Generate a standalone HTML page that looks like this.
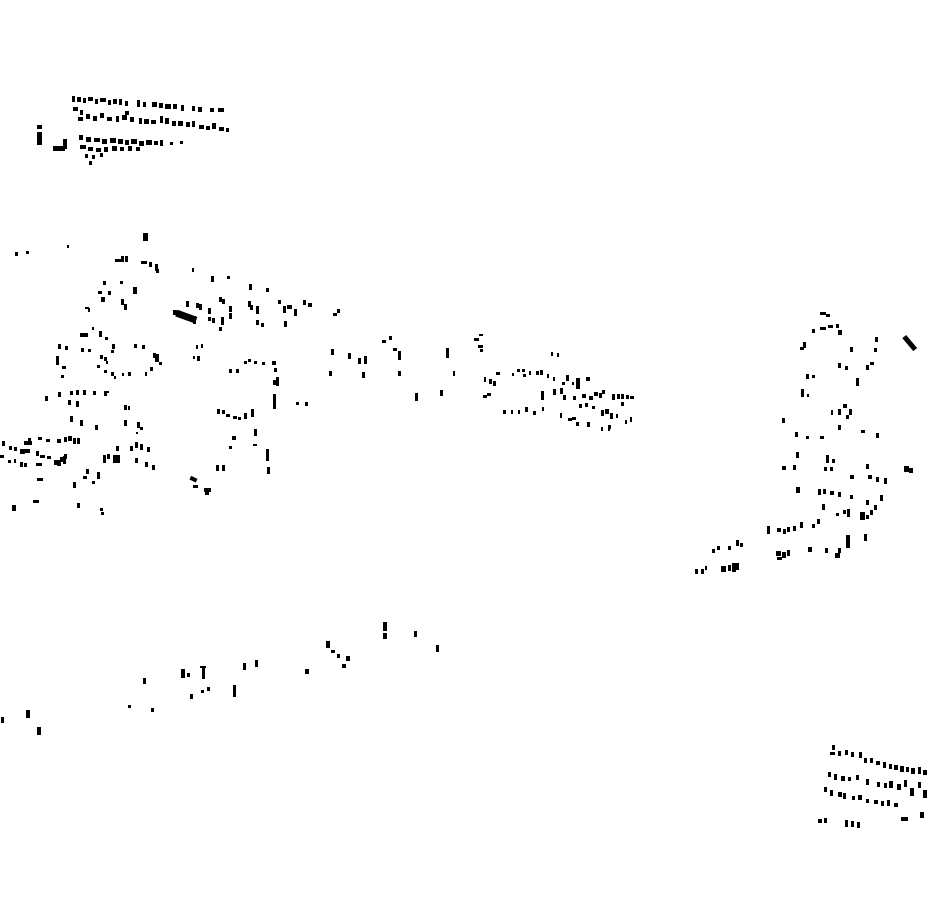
<!DOCTYPE html>
<html><head><meta charset="utf-8"><style>html,body{margin:0;padding:0;background:#fff}svg{display:block}</style></head>
<body>
<svg width="930" height="924" viewBox="0 0 930 924" xmlns="http://www.w3.org/2000/svg" fill="#000">
<!-- top-left dense cluster -->
<g>
<rect x="72" y="96" width="3" height="6"/><rect x="77" y="97" width="4" height="5"/><rect x="83" y="98" width="3" height="5"/><rect x="88" y="97" width="5" height="4"/><rect x="95" y="99" width="3" height="5"/><rect x="100" y="98" width="6" height="4"/><rect x="108" y="100" width="3" height="5"/><rect x="113" y="99" width="4" height="5"/><rect x="119" y="99" width="3" height="6"/><rect x="125" y="101" width="3" height="5"/><rect x="137" y="100" width="3" height="7"/><rect x="143" y="102" width="3" height="5"/><rect x="152" y="102" width="5" height="5"/><rect x="159" y="103" width="4" height="5"/><rect x="165" y="104" width="6" height="5"/><rect x="173" y="104" width="4" height="5"/><rect x="181" y="105" width="3" height="6"/><rect x="192" y="106" width="3" height="5"/><rect x="198" y="107" width="4" height="5"/><rect x="210" y="108" width="4" height="4"/><rect x="218" y="108" width="6" height="4"/>
<rect x="73" y="107" width="5" height="4"/><rect x="80" y="110" width="3" height="5"/><rect x="78" y="117" width="5" height="4"/><rect x="86" y="114" width="4" height="5"/><rect x="93" y="116" width="4" height="5"/><rect x="100" y="113" width="4" height="5"/><rect x="107" y="117" width="5" height="4"/><rect x="116" y="116" width="3" height="6"/><rect x="122" y="115" width="5" height="5"/><rect x="125" y="111" width="4" height="4"/><rect x="130" y="117" width="4" height="5"/><rect x="139" y="118" width="3" height="6"/><rect x="144" y="119" width="5" height="5"/><rect x="151" y="120" width="5" height="4"/><rect x="160" y="116" width="3" height="7"/><rect x="165" y="118" width="4" height="6"/><rect x="172" y="121" width="4" height="5"/><rect x="178" y="121" width="5" height="5"/><rect x="186" y="122" width="4" height="5"/><rect x="192" y="121" width="3" height="6"/><rect x="199" y="125" width="5" height="4"/><rect x="206" y="126" width="4" height="4"/><rect x="212" y="123" width="4" height="6"/><rect x="219" y="127" width="5" height="4"/><rect x="226" y="128" width="3" height="4"/>
<rect x="79" y="135" width="4" height="5"/><rect x="86" y="137" width="5" height="5"/><rect x="94" y="138" width="6" height="4"/><rect x="102" y="139" width="5" height="5"/><rect x="110" y="138" width="6" height="5"/><rect x="118" y="139" width="5" height="5"/><rect x="125" y="140" width="4" height="5"/><rect x="131" y="139" width="6" height="5"/><rect x="139" y="141" width="5" height="5"/><rect x="146" y="140" width="6" height="5"/><rect x="154" y="141" width="4" height="4"/><rect x="160" y="140" width="3" height="6"/><rect x="170" y="142" width="3" height="3"/><rect x="180" y="141" width="3" height="3"/>
<rect x="80" y="145" width="6" height="4"/><rect x="88" y="147" width="5" height="4"/><rect x="96" y="148" width="5" height="4"/><rect x="104" y="147" width="4" height="5"/><rect x="112" y="146" width="5" height="5"/><rect x="120" y="147" width="4" height="4"/><rect x="128" y="146" width="4" height="5"/><rect x="136" y="147" width="4" height="4"/><rect x="85" y="154" width="3" height="4"/><rect x="92" y="155" width="3" height="4"/><rect x="100" y="153" width="3" height="4"/><rect x="89" y="161" width="3" height="4"/>
<rect x="37" y="125" width="5" height="4"/><rect x="37" y="132" width="5" height="13"/><rect x="53" y="146" width="12" height="5"/><rect x="63" y="139" width="4" height="10"/>
</g>
<!-- main central cluster -->
<g>
<rect x="143" y="233" width="5" height="8"/><rect x="15" y="252" width="3" height="4"/><rect x="26" y="251" width="3" height="3"/><rect x="67" y="245" width="2" height="3"/>
<rect x="115" y="259" width="6" height="3"/><rect x="121" y="256" width="3" height="6"/><rect x="125" y="256" width="3" height="6"/><rect x="141" y="261" width="6" height="3"/><rect x="149" y="262" width="3" height="5"/><rect x="155" y="264" width="3" height="7"/><rect x="157" y="271" width="2" height="2"/>
<rect x="156" y="269" width="3" height="4"/><rect x="192" y="268" width="2" height="4"/><rect x="211" y="276" width="3" height="6"/><rect x="227" y="276" width="3" height="3"/><rect x="249" y="284" width="3" height="6"/><rect x="266" y="288" width="3" height="4"/>
<rect x="103" y="281" width="3" height="4"/><rect x="108" y="291" width="3" height="4"/><rect x="120" y="281" width="3" height="3"/><rect x="133" y="287" width="4" height="7"/><rect x="98" y="291" width="4" height="3"/><rect x="101" y="297" width="4" height="5"/><rect x="88" y="308" width="2" height="4"/><rect x="85" y="307" width="4" height="2"/>
<rect x="121" y="299" width="3" height="6"/><rect x="124" y="304" width="3" height="6"/>
<rect x="176" y="313" width="21" height="7" transform="rotate(20 186 316)"/>
<rect x="186" y="301" width="3" height="6"/><rect x="196" y="303" width="3" height="5"/><rect x="199" y="304" width="3" height="6"/><rect x="208" y="308" width="3" height="6"/><rect x="219" y="297" width="3" height="5"/><rect x="222" y="299" width="3" height="5"/><rect x="229" y="306" width="3" height="6"/><rect x="173" y="310" width="4" height="5"/><rect x="178" y="312" width="3" height="4"/><rect x="188" y="316" width="3" height="4"/><rect x="193" y="316" width="3" height="8"/><rect x="208" y="317" width="3" height="4"/><rect x="212" y="318" width="3" height="5"/><rect x="219" y="327" width="3" height="4"/><rect x="221" y="317" width="3" height="8"/><rect x="229" y="313" width="3" height="6"/><rect x="248" y="301" width="3" height="6"/><rect x="250" y="305" width="3" height="5"/><rect x="256" y="306" width="3" height="8"/><rect x="278" y="300" width="3" height="4"/><rect x="287" y="305" width="5" height="4"/><rect x="283" y="306" width="3" height="7"/><rect x="294" y="309" width="3" height="7"/>
<rect x="256" y="320" width="3" height="5"/><rect x="261" y="323" width="3" height="4"/><rect x="284" y="321" width="3" height="6"/><rect x="303" y="300" width="3" height="5"/><rect x="308" y="303" width="4" height="4"/><rect x="333" y="313" width="4" height="3"/><rect x="337" y="309" width="3" height="4"/>
<rect x="58" y="344" width="3" height="5"/><rect x="65" y="346" width="3" height="4"/><rect x="56" y="356" width="3" height="9"/><rect x="62" y="366" width="4" height="3"/><rect x="61" y="375" width="3" height="3"/>
<rect x="80" y="333" width="8" height="4"/><rect x="92" y="327" width="2" height="3"/><rect x="99" y="331" width="3" height="6"/><rect x="105" y="337" width="3" height="3"/><rect x="81" y="348" width="3" height="4"/><rect x="88" y="349" width="3" height="3"/><rect x="112" y="344" width="3" height="5"/><rect x="100" y="355" width="3" height="4"/><rect x="104" y="357" width="3" height="4"/><rect x="111" y="350" width="3" height="3"/><rect x="97" y="365" width="3" height="3"/><rect x="104" y="370" width="3" height="3"/><rect x="106" y="361" width="2" height="3"/><rect x="107" y="391" width="2" height="2"/><rect x="111" y="372" width="3" height="4"/><rect x="114" y="376" width="2" height="3"/><rect x="122" y="373" width="2" height="3"/><rect x="128" y="372" width="3" height="4"/>
<rect x="134" y="344" width="3" height="4"/><rect x="142" y="345" width="3" height="4"/><rect x="153" y="353" width="3" height="5"/><rect x="155" y="354" width="4" height="8"/><rect x="159" y="362" width="3" height="3"/><rect x="145" y="372" width="2" height="4"/><rect x="150" y="367" width="3" height="4"/>
<rect x="196" y="345" width="2" height="4"/><rect x="201" y="344" width="2" height="4"/><rect x="193" y="356" width="2" height="3"/><rect x="197" y="356" width="3" height="5"/>
<rect x="229" y="369" width="3" height="4"/><rect x="236" y="369" width="3" height="4"/><rect x="244" y="361" width="3" height="3"/><rect x="248" y="359" width="3" height="3"/><rect x="254" y="361" width="3" height="3"/><rect x="262" y="362" width="3" height="3"/><rect x="272" y="361" width="4" height="4"/><rect x="274" y="368" width="3" height="4"/><rect x="276" y="377" width="3" height="9"/><rect x="273" y="380" width="4" height="5"/><rect x="273" y="394" width="3" height="15"/>
<rect x="45" y="396" width="3" height="5"/><rect x="58" y="392" width="3" height="5"/><rect x="70" y="391" width="3" height="4"/><rect x="76" y="390" width="3" height="5"/><rect x="83" y="390" width="3" height="5"/><rect x="93" y="391" width="3" height="4"/><rect x="104" y="391" width="3" height="5"/><rect x="68" y="400" width="3" height="5"/><rect x="76" y="401" width="3" height="6"/><rect x="70" y="416" width="3" height="6"/><rect x="80" y="420" width="3" height="6"/><rect x="95" y="425" width="3" height="5"/>
<rect x="124" y="405" width="3" height="5"/><rect x="128" y="406" width="2" height="4"/><rect x="124" y="420" width="3" height="6"/><rect x="137" y="422" width="3" height="6"/><rect x="140" y="427" width="3" height="3"/><rect x="136" y="432" width="2" height="2"/>
<rect x="217" y="409" width="3" height="5"/><rect x="222" y="410" width="3" height="4"/><rect x="226" y="414" width="4" height="3"/><rect x="233" y="416" width="4" height="3"/><rect x="238" y="417" width="3" height="3"/><rect x="244" y="413" width="3" height="6"/><rect x="251" y="409" width="3" height="8"/><rect x="254" y="429" width="3" height="7"/><rect x="232" y="436" width="4" height="4"/><rect x="229" y="446" width="3" height="3"/><rect x="253" y="444" width="4" height="2"/>
<rect x="24" y="441" width="8" height="4"/><rect x="28" y="438" width="3" height="3"/><rect x="38" y="437" width="4" height="3"/><rect x="46" y="439" width="4" height="3"/><rect x="57" y="439" width="4" height="4"/><rect x="64" y="437" width="3" height="5"/><rect x="68" y="436" width="4" height="5"/><rect x="73" y="438" width="3" height="6"/><rect x="77" y="438" width="3" height="6"/><rect x="2" y="441" width="3" height="5"/><rect x="9" y="446" width="3" height="4"/><rect x="14" y="447" width="3" height="4"/><rect x="20" y="449" width="5" height="5"/><rect x="25" y="449" width="5" height="4"/><rect x="36" y="451" width="3" height="5"/><rect x="40" y="455" width="5" height="3"/><rect x="47" y="456" width="4" height="3"/><rect x="60" y="457" width="4" height="5"/><rect x="63" y="456" width="3" height="8"/><rect x="0" y="455" width="4" height="3"/><rect x="8" y="460" width="3" height="3"/><rect x="14" y="459" width="2" height="4"/><rect x="20" y="462" width="3" height="5"/><rect x="24" y="463" width="3" height="4"/><rect x="36" y="463" width="6" height="3"/><rect x="54" y="460" width="4" height="5"/><rect x="57" y="460" width="4" height="6"/><rect x="64" y="454" width="3" height="5"/>
<rect x="103" y="455" width="3" height="8"/><rect x="107" y="454" width="3" height="5"/><rect x="113" y="455" width="7" height="8"/><rect x="116" y="446" width="3" height="5"/><rect x="130" y="446" width="3" height="5"/><rect x="135" y="442" width="3" height="6"/><rect x="140" y="444" width="3" height="6"/><rect x="147" y="447" width="3" height="5"/><rect x="135" y="458" width="3" height="5"/><rect x="145" y="462" width="3" height="5"/><rect x="152" y="465" width="3" height="5"/>
<rect x="86" y="469" width="3" height="5"/><rect x="97" y="472" width="3" height="7"/><rect x="83" y="476" width="4" height="3"/><rect x="92" y="481" width="3" height="3"/><rect x="73" y="482" width="3" height="6"/><rect x="37" y="478" width="6" height="3"/><rect x="73" y="484" width="3" height="4"/><rect x="12" y="505" width="4" height="6"/><rect x="33" y="500" width="6" height="3"/><rect x="77" y="503" width="3" height="5"/><rect x="100" y="508" width="3" height="3"/><rect x="101" y="512" width="3" height="3"/>
<rect x="190" y="477" width="7" height="4" transform="rotate(25 193 479)"/><rect x="193" y="485" width="5" height="3"/><rect x="204" y="488" width="7" height="4"/><rect x="205" y="492" width="4" height="3"/><rect x="216" y="465" width="3" height="6"/><rect x="222" y="465" width="3" height="6"/>
<rect x="266" y="449" width="3" height="12"/><rect x="267" y="467" width="3" height="7"/><rect x="296" y="402" width="3" height="3"/><rect x="305" y="402" width="3" height="4"/>
<rect x="329" y="371" width="3" height="5"/><rect x="348" y="353" width="3" height="6"/><rect x="358" y="358" width="3" height="6"/><rect x="364" y="356" width="3" height="8"/><rect x="362" y="372" width="3" height="6"/><rect x="398" y="351" width="3" height="9"/><rect x="398" y="371" width="3" height="5"/><rect x="415" y="393" width="3" height="8"/><rect x="440" y="390" width="3" height="6"/><rect x="446" y="348" width="3" height="10"/><rect x="453" y="371" width="2" height="5"/>
<rect x="382" y="340" width="4" height="3"/><rect x="389" y="336" width="3" height="4"/><rect x="331" y="349" width="3" height="6"/><rect x="393" y="348" width="4" height="3"/>
<rect x="474" y="338" width="5" height="3"/><rect x="478" y="345" width="5" height="3"/><rect x="480" y="349" width="3" height="3"/><rect x="479" y="334" width="4" height="2"/>
<rect x="484" y="377" width="2" height="5"/><rect x="489" y="379" width="3" height="5"/><rect x="493" y="381" width="3" height="5"/><rect x="496" y="372" width="4" height="3"/><rect x="487" y="393" width="4" height="3"/><rect x="483" y="395" width="4" height="3"/><rect x="503" y="410" width="3" height="4"/><rect x="511" y="410" width="2" height="4"/><rect x="518" y="410" width="2" height="4"/><rect x="525" y="407" width="3" height="5"/><rect x="533" y="411" width="3" height="4"/><rect x="542" y="407" width="2" height="4"/>
<rect x="512" y="373" width="2" height="3"/><rect x="517" y="369" width="3" height="3"/><rect x="522" y="369" width="3" height="3"/><rect x="523" y="374" width="3" height="3"/><rect x="529" y="371" width="2" height="4"/><rect x="536" y="371" width="3" height="4"/><rect x="540" y="370" width="3" height="5"/><rect x="547" y="374" width="2" height="4"/><rect x="553" y="377" width="2" height="4"/><rect x="562" y="382" width="3" height="3"/><rect x="566" y="375" width="3" height="6"/><rect x="572" y="382" width="2" height="3"/><rect x="576" y="378" width="4" height="11"/><rect x="586" y="377" width="4" height="4"/><rect x="582" y="394" width="4" height="4"/><rect x="589" y="396" width="4" height="4"/><rect x="594" y="392" width="4" height="4"/><rect x="599" y="393" width="3" height="5"/><rect x="602" y="390" width="3" height="4"/><rect x="612" y="394" width="3" height="6"/><rect x="617" y="394" width="3" height="5"/><rect x="621" y="394" width="3" height="5"/><rect x="626" y="395" width="3" height="4"/><rect x="630" y="396" width="4" height="3"/><rect x="541" y="391" width="3" height="9"/><rect x="553" y="389" width="3" height="6"/><rect x="560" y="388" width="3" height="6"/><rect x="563" y="395" width="3" height="5"/><rect x="573" y="396" width="3" height="4"/><rect x="579" y="404" width="3" height="4"/><rect x="585" y="403" width="3" height="4"/><rect x="592" y="406" width="3" height="3"/><rect x="601" y="410" width="3" height="6"/><rect x="610" y="413" width="3" height="6"/><rect x="616" y="414" width="2" height="4"/><rect x="625" y="420" width="2" height="4"/><rect x="630" y="417" width="2" height="5"/><rect x="601" y="427" width="2" height="4"/><rect x="608" y="427" width="2" height="4"/>
<rect x="551" y="352" width="2" height="4"/><rect x="557" y="353" width="2" height="4"/><rect x="605" y="409" width="4" height="5"/><rect x="621" y="402" width="3" height="4"/>
<rect x="560" y="413" width="2" height="5"/><rect x="568" y="418" width="4" height="3"/><rect x="572" y="417" width="4" height="3"/><rect x="576" y="422" width="3" height="4"/><rect x="587" y="422" width="3" height="5"/><rect x="608" y="425" width="3" height="4"/>
</g>
<!-- right cluster -->
<g>
<rect x="820" y="312" width="6" height="3"/><rect x="826" y="314" width="4" height="3"/><rect x="812" y="329" width="3" height="4"/><rect x="820" y="327" width="6" height="3"/><rect x="828" y="325" width="5" height="3"/><rect x="836" y="324" width="3" height="4"/><rect x="838" y="330" width="4" height="5"/><rect x="803" y="342" width="3" height="6"/><rect x="800" y="347" width="4" height="3"/><rect x="850" y="347" width="3" height="5"/><rect x="875" y="337" width="3" height="5"/><rect x="874" y="348" width="3" height="4"/>
<rect x="901" y="340" width="17" height="5" transform="rotate(50 909 343)"/>
<rect x="838" y="363" width="3" height="5"/><rect x="845" y="366" width="3" height="4"/><rect x="866" y="365" width="3" height="5"/><rect x="870" y="362" width="4" height="3"/><rect x="856" y="378" width="3" height="8"/><rect x="806" y="374" width="3" height="5"/><rect x="812" y="375" width="3" height="3"/><rect x="801" y="389" width="3" height="8"/><rect x="807" y="394" width="2" height="3"/>
<rect x="831" y="410" width="2" height="5"/><rect x="838" y="409" width="3" height="6"/><rect x="843" y="404" width="4" height="4"/><rect x="849" y="409" width="3" height="6"/><rect x="846" y="415" width="3" height="4"/><rect x="782" y="418" width="3" height="5"/><rect x="795" y="432" width="3" height="5"/><rect x="806" y="436" width="3" height="3"/><rect x="820" y="436" width="4" height="3"/><rect x="838" y="425" width="3" height="5"/><rect x="861" y="430" width="4" height="3"/><rect x="876" y="433" width="3" height="5"/>
<rect x="796" y="452" width="3" height="6"/><rect x="826" y="455" width="3" height="8"/><rect x="832" y="459" width="3" height="4"/><rect x="782" y="466" width="4" height="4"/><rect x="793" y="465" width="3" height="5"/><rect x="824" y="467" width="3" height="4"/><rect x="830" y="467" width="3" height="4"/><rect x="866" y="464" width="3" height="5"/><rect x="868" y="475" width="4" height="4"/><rect x="850" y="475" width="4" height="4"/><rect x="876" y="477" width="3" height="5"/><rect x="884" y="478" width="3" height="6"/><rect x="904" y="466" width="5" height="6"/><rect x="909" y="468" width="4" height="5"/>
<rect x="796" y="487" width="4" height="6"/><rect x="818" y="489" width="3" height="6"/><rect x="823" y="489" width="3" height="5"/><rect x="830" y="491" width="4" height="4"/><rect x="838" y="492" width="3" height="5"/><rect x="850" y="495" width="3" height="4"/><rect x="866" y="500" width="3" height="5"/><rect x="880" y="495" width="3" height="6"/><rect x="874" y="505" width="3" height="5"/><rect x="870" y="510" width="3" height="5"/><rect x="866" y="515" width="3" height="4"/><rect x="860" y="512" width="5" height="8"/><rect x="847" y="509" width="3" height="8"/><rect x="843" y="510" width="3" height="4"/><rect x="836" y="513" width="3" height="3"/><rect x="822" y="504" width="3" height="6"/><rect x="817" y="519" width="3" height="5"/><rect x="812" y="524" width="3" height="4"/><rect x="800" y="522" width="3" height="6"/><rect x="793" y="526" width="3" height="5"/><rect x="787" y="527" width="3" height="5"/><rect x="783" y="529" width="3" height="5"/><rect x="777" y="528" width="4" height="4"/><rect x="767" y="526" width="3" height="8"/><rect x="736" y="540" width="3" height="6"/><rect x="740" y="543" width="3" height="4"/><rect x="728" y="546" width="3" height="4"/><rect x="717" y="546" width="3" height="4"/><rect x="712" y="549" width="3" height="4"/>
<rect x="846" y="535" width="4" height="13"/><rect x="864" y="534" width="3" height="7"/><rect x="835" y="553" width="5" height="5"/><rect x="838" y="548" width="3" height="5"/><rect x="825" y="548" width="3" height="5"/><rect x="808" y="547" width="4" height="5"/><rect x="776" y="551" width="5" height="5"/><rect x="782" y="552" width="4" height="6"/><rect x="787" y="550" width="3" height="6"/><rect x="777" y="557" width="5" height="3"/><rect x="721" y="566" width="5" height="6"/><rect x="728" y="565" width="3" height="6"/><rect x="732" y="563" width="4" height="9"/><rect x="736" y="563" width="3" height="7"/><rect x="695" y="569" width="3" height="5"/><rect x="701" y="569" width="3" height="5"/><rect x="705" y="566" width="2" height="4"/>
</g>
<!-- lower scattered band -->
<g>
<rect x="383" y="622" width="4" height="9"/><rect x="383" y="633" width="4" height="6"/><rect x="414" y="631" width="3" height="6"/><rect x="436" y="645" width="3" height="7"/><rect x="326" y="641" width="4" height="7"/><rect x="331" y="650" width="4" height="3"/><rect x="337" y="654" width="3" height="4"/><rect x="346" y="656" width="4" height="5"/><rect x="342" y="664" width="4" height="4"/><rect x="305" y="669" width="4" height="5"/><rect x="255" y="660" width="3" height="7"/><rect x="243" y="663" width="3" height="7"/><rect x="233" y="685" width="3" height="12"/><rect x="202" y="667" width="3" height="12"/><rect x="200" y="666" width="6" height="2"/><rect x="181" y="669" width="4" height="9"/><rect x="187" y="673" width="3" height="4"/><rect x="207" y="687" width="3" height="4"/><rect x="201" y="690" width="3" height="3"/><rect x="190" y="694" width="3" height="5"/><rect x="143" y="678" width="3" height="6"/><rect x="128" y="705" width="3" height="3"/><rect x="151" y="708" width="3" height="4"/><rect x="26" y="710" width="4" height="8"/><rect x="1" y="717" width="3" height="6"/><rect x="37" y="727" width="4" height="8"/>
</g>
<!-- bottom-right cluster -->
<g>
<rect x="832" y="745" width="3" height="5"/><rect x="830" y="752" width="5" height="3"/><rect x="838" y="751" width="3" height="5"/><rect x="845" y="750" width="3" height="5"/><rect x="851" y="752" width="3" height="5"/><rect x="859" y="752" width="3" height="6"/><rect x="864" y="758" width="3" height="5"/><rect x="870" y="758" width="3" height="5"/><rect x="876" y="761" width="4" height="4"/><rect x="883" y="762" width="3" height="6"/><rect x="889" y="764" width="3" height="5"/><rect x="894" y="765" width="4" height="5"/><rect x="900" y="766" width="4" height="6"/><rect x="906" y="767" width="3" height="5"/><rect x="911" y="768" width="4" height="6"/><rect x="918" y="767" width="3" height="7"/><rect x="923" y="770" width="4" height="5"/>
<rect x="828" y="772" width="3" height="5"/><rect x="834" y="774" width="3" height="6"/><rect x="841" y="776" width="4" height="5"/><rect x="848" y="777" width="3" height="4"/><rect x="856" y="775" width="3" height="5"/><rect x="866" y="779" width="3" height="6"/><rect x="877" y="782" width="3" height="5"/><rect x="884" y="783" width="3" height="5"/><rect x="889" y="781" width="4" height="7"/><rect x="897" y="784" width="4" height="6"/><rect x="904" y="780" width="3" height="7"/><rect x="910" y="788" width="4" height="8"/><rect x="918" y="782" width="3" height="6"/><rect x="923" y="790" width="4" height="8"/>
<rect x="824" y="787" width="3" height="5"/><rect x="830" y="790" width="3" height="6"/><rect x="838" y="792" width="4" height="5"/><rect x="843" y="793" width="3" height="6"/><rect x="852" y="796" width="3" height="4"/><rect x="858" y="795" width="4" height="5"/><rect x="866" y="799" width="3" height="4"/><rect x="874" y="800" width="4" height="4"/><rect x="881" y="801" width="3" height="5"/><rect x="887" y="800" width="3" height="6"/><rect x="894" y="803" width="4" height="4"/><rect x="901" y="817" width="7" height="4"/><rect x="920" y="812" width="4" height="6"/><rect x="818" y="819" width="4" height="4"/><rect x="824" y="818" width="3" height="5"/><rect x="845" y="820" width="3" height="7"/><rect x="851" y="821" width="3" height="6"/><rect x="857" y="822" width="3" height="6"/>
</g>
</svg>
</body></html>
